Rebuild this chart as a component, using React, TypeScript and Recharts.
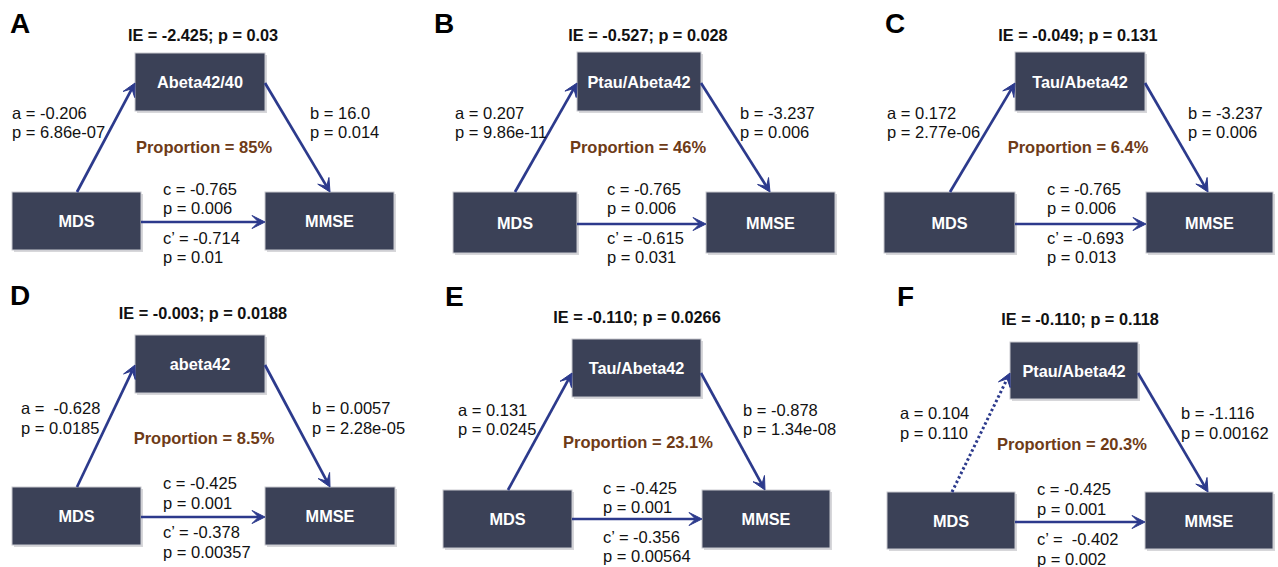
import React from 'react';
import {
  ScatterChart,
  Scatter,
  XAxis,
  YAxis,
  ReferenceArea,
  ReferenceLine,
} from 'recharts';

// mediation results, one entry per panel
const panelLetters = ['A', 'B', 'C', 'D', 'E', 'F'];
const mediators = ['Abeta42/40', 'Ptau/Abeta42', 'Tau/Abeta42', 'abeta42', 'Tau/Abeta42', 'Ptau/Abeta42'];
const ieValues = ['-2.425', '-0.527', '-0.049', '-0.003', '-0.110', '-0.110'];
const ieP = ['0.03', '0.028', '0.131', '0.0188', '0.0266', '0.118'];
const aValues = ['-0.206', '0.207', '0.172', ' -0.628', '0.131', '0.104'];
const aP = ['6.86e-07', '9.86e-11', '2.77e-06', '0.0185', '0.0245', '0.110'];
const bValues = ['16.0', '-3.237', '-3.237', '0.0057', '-0.878', '-1.116'];
const bP = ['0.014', '0.006', '0.006', '2.28e-05', '1.34e-08', '0.00162'];
const cValues = ['-0.765', '-0.765', '-0.765', '-0.425', '-0.425', '-0.425'];
const cP = ['0.006', '0.006', '0.006', '0.001', '0.001', '0.001'];
const cPrimeValues = ['-0.714', '-0.615', '-0.693', '-0.378', '-0.356', ' -0.402'];
const cPrimeP = ['0.01', '0.031', '0.013', '0.00357', '0.00564', '0.002'];
const proportions = ['85%', '46%', '6.4%', '8.5%', '23.1%', '20.3%'];
// a path not significant -> dotted
const aSignificant = [true, true, true, true, true, false];

// diagram layout (pixel units of the chart domain)
const layout = [
  { med: [135, 265, 53, 111], mds: [12, 141, 192, 250], mmse: [265, 394, 192, 250], aFrom: [77, 192], aTo: [135, 83], bFrom: [265, 83], bTo: [330, 192], cY: 222, letter: [10, 33], ie: [203, 35], aText: [12, 113], bText: [310, 113], prop: [204, 147], cText: [163, 189], cpText: [163, 238], gap: 19 },
  { med: [577, 701, 52, 111], mds: [453, 577, 192, 253], mmse: [706, 835, 192, 253], aFrom: [515, 192], aTo: [577, 83], bFrom: [701, 83], bTo: [770, 192], cY: 224, letter: [434, 33], ie: [648, 35], aText: [455, 113], bText: [740, 113], prop: [638, 147], cText: [607, 189], cpText: [607, 238], gap: 19 },
  { med: [1015, 1145, 52, 111], mds: [884, 1015, 192, 253], mmse: [1146, 1273, 192, 253], aFrom: [950, 192], aTo: [1015, 83], bFrom: [1145, 83], bTo: [1208, 192], cY: 224, letter: [885, 33], ie: [1078, 35], aText: [887, 113], bText: [1188, 113], prop: [1078, 147], cText: [1047, 189], cpText: [1047, 238], gap: 19 },
  { med: [135, 265, 335, 393], mds: [12, 141, 487, 545], mmse: [265, 395, 487, 545], aFrom: [77, 487], aTo: [135, 365], bFrom: [265, 365], bTo: [330, 487], cY: 517, letter: [10, 305], ie: [203, 313], aText: [21, 408], bText: [312, 408], prop: [204, 438], cText: [163, 483], cpText: [163, 532], gap: 20 },
  { med: [572, 701, 339, 397], mds: [443, 572, 490, 548], mmse: [702, 830, 490, 548], aFrom: [508, 490], aTo: [572, 373], bFrom: [701, 373], bTo: [765, 490], cY: 519, letter: [445, 306], ie: [637, 317], aText: [458, 410], bText: [743, 410], prop: [638, 442], cText: [603, 488], cpText: [603, 537], gap: 19 },
  { med: [1010, 1138, 342, 399], mds: [887, 1015, 492, 549], mmse: [1145, 1273, 492, 549], aFrom: [952, 492], aTo: [1010, 373], bFrom: [1138, 373], bTo: [1208, 492], cY: 522, letter: [897, 306], ie: [1080, 319], aText: [900, 413], bText: [1181, 413], prop: [1072, 444], cText: [1037, 489], cpText: [1037, 539], gap: 20 },
];

const BOX = '#3b4157';
const ARROW = '#2c3a8c';
const BROWN = '#6e3b17';
const FONT = '"Liberation Sans", Arial, sans-serif';

type TextPoint = { x: number; y: number; text: string; kind: string };

const textPoints: TextPoint[] = [];
layout.forEach((l, i) => {
  textPoints.push({ x: l.letter[0], y: l.letter[1], text: panelLetters[i], kind: 'letter' });
  textPoints.push({ x: l.ie[0], y: l.ie[1], text: `IE = ${ieValues[i]}; p = ${ieP[i]}`, kind: 'ie' });
  textPoints.push({ x: l.aText[0], y: l.aText[1], text: `a = ${aValues[i]}`, kind: 'plain' });
  textPoints.push({ x: l.aText[0], y: l.aText[1] + l.gap, text: `p = ${aP[i]}`, kind: 'plain' });
  textPoints.push({ x: l.bText[0], y: l.bText[1], text: `b = ${bValues[i]}`, kind: 'plain' });
  textPoints.push({ x: l.bText[0], y: l.bText[1] + l.gap, text: `p = ${bP[i]}`, kind: 'plain' });
  textPoints.push({ x: l.cText[0], y: l.cText[1], text: `c = ${cValues[i]}`, kind: 'plain' });
  textPoints.push({ x: l.cText[0], y: l.cText[1] + l.gap, text: `p = ${cP[i]}`, kind: 'plain' });
  textPoints.push({ x: l.cpText[0], y: l.cpText[1], text: `c\u2019 = ${cPrimeValues[i]}`, kind: 'plain' });
  textPoints.push({ x: l.cpText[0], y: l.cpText[1] + l.gap, text: `p = ${cPrimeP[i]}`, kind: 'plain' });
  textPoints.push({ x: l.prop[0], y: l.prop[1], text: `Proportion = ${proportions[i]}`, kind: 'prop' });
  textPoints.push({ x: (l.med[0] + l.med[1]) / 2, y: (l.med[2] + l.med[3]) / 2, text: mediators[i], kind: 'box' });
  textPoints.push({ x: (l.mds[0] + l.mds[1]) / 2, y: (l.mds[2] + l.mds[3]) / 2, text: 'MDS', kind: 'box' });
  textPoints.push({ x: (l.mmse[0] + l.mmse[1]) / 2, y: (l.mmse[2] + l.mmse[3]) / 2, text: 'MMSE', kind: 'box' });
});

const TextShape = (props: any) => {
  const { cx, cy, payload } = props;
  const p = payload as TextPoint;
  const common = { fontFamily: FONT, style: { whiteSpace: 'pre' as const } };
  if (p.kind === 'letter') {
    return <text x={cx} y={cy} fontSize={28} fontWeight="bold" fill="#000" {...common}>{p.text}</text>;
  }
  if (p.kind === 'ie') {
    return <text x={cx} y={cy} textAnchor="middle" dominantBaseline="central" fontSize={16.3} fontWeight="bold" fill="#111" {...common}>{p.text}</text>;
  }
  if (p.kind === 'prop') {
    return <text x={cx} y={cy} textAnchor="middle" dominantBaseline="central" fontSize={16.5} fontWeight="bold" fill={BROWN} {...common}>{p.text}</text>;
  }
  if (p.kind === 'box') {
    return <text x={cx} y={cy} textAnchor="middle" dominantBaseline="central" fontSize={16.3} fontWeight="bold" fill="#fff" {...common}>{p.text}</text>;
  }
  return <text x={cx} y={cy} dominantBaseline="central" fontSize={16.5} fill="#111" {...common}>{p.text}</text>;
};

const BoxShape = (props: any) => {
  const { x, y, width, height } = props;
  return (
    <g>
      <rect x={x + 2} y={y + 2} width={width} height={height} fill="#9a9aa2" opacity={0.4} />
      <rect x={x} y={y} width={width} height={height} fill={BOX} stroke="#c9cad0" strokeWidth={1} />
    </g>
  );
};

const makeArrow = (dotted: boolean) => (props: any) => {
  const { x1, y1, x2, y2 } = props;
  const dx = x2 - x1;
  const dy = y2 - y1;
  const len = Math.sqrt(dx * dx + dy * dy) || 1;
  const ux = dx / len;
  const uy = dy / len;
  const head = 13;
  const half = 6.5;
  const bx = x2 - ux * head;
  const by = y2 - uy * head;
  const nx = -uy;
  const ny = ux;
  const notchX = x2 - ux * head * 0.5;
  const notchY = y2 - uy * head * 0.5;
  const d = `M${x2},${y2} L${bx + nx * half},${by + ny * half} L${notchX},${notchY} L${bx - nx * half},${by - ny * half} Z`;
  return (
    <g>
      <line
        x1={x1}
        y1={y1}
        x2={notchX}
        y2={notchY}
        stroke={ARROW}
        strokeWidth={dotted ? 3 : 2.7}
        strokeDasharray={dotted ? '2.5 2.5' : undefined}
      />
      <path d={d} fill={ARROW} stroke={ARROW} strokeWidth={1} strokeLinejoin="round" />
    </g>
  );
};

const solidArrow = makeArrow(false);
const dottedArrow = makeArrow(true);

export default function App() {
  return (
    <div style={{ position: 'absolute', left: 0, top: 0, width: 1278, height: 567, background: '#fff' }}>
      <ScatterChart width={1278} height={567} margin={{ top: 0, right: 0, bottom: 0, left: 0 }}>
        <XAxis type="number" dataKey="x" domain={[0, 1278]} hide allowDataOverflow />
        <YAxis type="number" dataKey="y" domain={[0, 567]} reversed hide allowDataOverflow />
        {layout.map((l, i) => (
          <React.Fragment key={`boxes-${i}`}>
            <ReferenceArea x1={l.med[0]} x2={l.med[1]} y1={l.med[2]} y2={l.med[3]} shape={BoxShape} ifOverflow="visible" />
            <ReferenceArea x1={l.mds[0]} x2={l.mds[1]} y1={l.mds[2]} y2={l.mds[3]} shape={BoxShape} ifOverflow="visible" />
            <ReferenceArea x1={l.mmse[0]} x2={l.mmse[1]} y1={l.mmse[2]} y2={l.mmse[3]} shape={BoxShape} ifOverflow="visible" />
          </React.Fragment>
        ))}
        {layout.map((l, i) => (
          <React.Fragment key={`arrows-${i}`}>
            <ReferenceLine
              segment={[{ x: l.aFrom[0], y: l.aFrom[1] }, { x: l.aTo[0], y: l.aTo[1] }]}
              shape={aSignificant[i] ? solidArrow : dottedArrow}
              ifOverflow="visible"
            />
            <ReferenceLine
              segment={[{ x: l.bFrom[0], y: l.bFrom[1] }, { x: l.bTo[0], y: l.bTo[1] }]}
              shape={solidArrow}
              ifOverflow="visible"
            />
            <ReferenceLine
              segment={[{ x: l.mds[1], y: l.cY }, { x: l.mmse[0], y: l.cY }]}
              shape={solidArrow}
              ifOverflow="visible"
            />
          </React.Fragment>
        ))}
        <Scatter data={textPoints} shape={TextShape} isAnimationActive={false} />
      </ScatterChart>
    </div>
  );
}
